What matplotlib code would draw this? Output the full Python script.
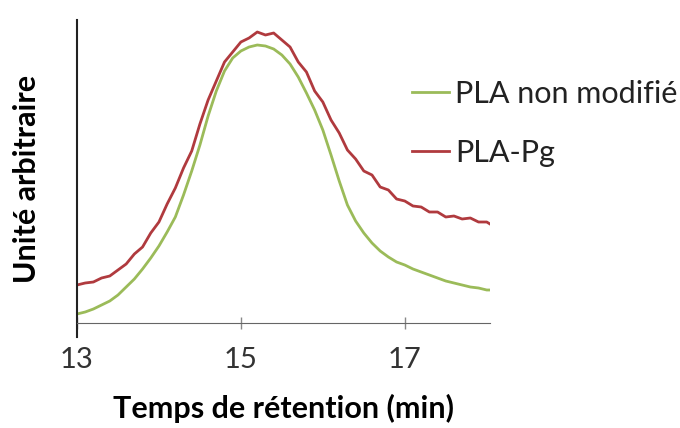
import matplotlib
matplotlib.use("Agg")
import matplotlib.pyplot as plt

plt.rcParams["font.family"] = ["Lato", "DejaVu Sans"]

# temps de rétention (min)
t_min = [13.0, 13.1, 13.2, 13.3, 13.4, 13.5, 13.6, 13.7, 13.8, 13.9,
         14.0, 14.1, 14.2, 14.3, 14.4, 14.5, 14.6, 14.7, 14.8, 14.9,
         15.0, 15.1, 15.2, 15.3, 15.4, 15.5, 15.6, 15.7, 15.8, 15.9,
         16.0, 16.1, 16.2, 16.3, 16.4, 16.5, 16.6, 16.7, 16.8, 16.9,
         17.0, 17.1, 17.2, 17.3, 17.4, 17.5, 17.6, 17.7, 17.8, 17.9,
         18.0, 18.04]
# intensité (unité arbitraire)
y_pla = [9, 11, 14, 18, 22, 28, 36, 44, 54, 65,
         77, 91, 106, 128, 152, 178, 207, 232, 252, 265,
         272, 276, 278, 277, 274, 268, 259, 246, 230, 213,
         193, 168, 142, 118, 102, 90, 80, 72, 66, 61,
         58, 54, 51, 48, 45, 42, 40, 38, 36, 35,
         33, 33]
y_pg = [38, 40, 41, 45, 47, 53, 59, 69, 76, 90,
        101, 119, 135, 155, 172, 199, 223, 242, 261, 271,
        281, 285, 291, 288, 290, 283, 276, 261, 251, 232,
        221, 203, 190, 173, 164, 152, 148, 136, 133, 124,
        122, 117, 116, 111, 111, 106, 107, 104, 105, 101,
        101, 99]

xticks = [13, 15, 17]

fig = plt.figure(figsize=(6.8, 4.28), dpi=100)
ax = fig.add_axes([77/680, 1-337/428, (490-77)/680, (337-20)/428])

ax.plot(t_min, y_pla, color="#9BBB59", lw=2, label="PLA non modifié")
ax.plot(t_min, y_pg, color="#B03A3E", lw=2, label="PLA-Pg")

ax.set_xlim(13, 18.04)
ax.set_ylim(-14, 303)
ax.spines["top"].set_visible(False)
ax.spines["right"].set_visible(False)
ax.spines["bottom"].set_position(("data", 0))
ax.spines["bottom"].set_color("#666666")
ax.spines["left"].set_color("#222222")
ax.spines["left"].set_linewidth(1.5)
ax.set_yticks([])
ax.set_xticks(xticks)
ax.set_xticklabels([str(v) for v in xticks])
ax.tick_params(axis="x", direction="inout", length=9, width=1, color="#888888",
               labelsize=21, pad=13, labelcolor="#333333")

ax.set_xlabel("Temps de rétention (min)", fontsize=22, fontweight="bold", labelpad=15)
ax.set_ylabel("Unité arbitraire", fontsize=22, fontweight="bold", labelpad=26)

fig.legend(loc="upper left", bbox_to_anchor=(412/680, 1-80/428), frameon=False,
           fontsize=22, handlelength=1.2, handletextpad=0.2, labelspacing=1.0,
           borderpad=0, borderaxespad=0, labelcolor="#222222")

fig.savefig("out.png", dpi=100)
